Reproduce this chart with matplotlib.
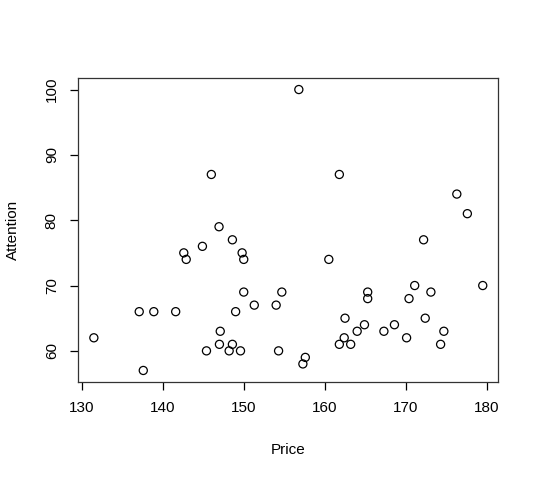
import matplotlib
matplotlib.use("Agg")
import matplotlib.pyplot as plt

price = [131.5, 137.6, 137.1, 138.9, 141.6, 142.6, 142.9, 144.9, 146.0, 146.95,
         145.4, 147.1, 147.0, 148.6, 149.8, 150.0, 148.6, 148.2, 149.6, 149.0,
         150.0, 151.3, 154.0, 154.7, 154.3, 156.8, 161.8, 176.3, 177.6, 172.2,
         160.5, 179.5, 171.1, 165.3, 165.3, 170.4, 173.1, 162.5, 172.4, 164.9,
         164.0, 162.4, 161.8, 163.2, 167.3, 168.6, 170.1, 174.7, 174.3, 157.6,
         157.3]
attention = [62, 57, 66, 66, 66, 75, 74, 76, 87, 79,
             60, 63, 61, 77, 75, 74, 61, 60, 60, 66,
             69, 67, 67, 69, 60, 100, 87, 84, 81, 77,
             74, 70, 70, 69, 68, 68, 69, 65, 65, 64,
             63, 62, 61, 61, 63, 64, 62, 63, 61, 59,
             58]
xticks = [130, 140, 150, 160, 170, 180]
yticks = [60, 70, 80, 90, 100]

plt.rcParams['font.family'] = ['Liberation Sans', 'DejaVu Sans']

fig = plt.figure(figsize=(5.38, 4.8), dpi=100)
ax = fig.add_axes([78.3/538, 1-381.7/480, (498.3-78.3)/538, (381.7-78.3)/480])
ax.scatter(price, attention, s=34, facecolors='none', edgecolors='black', linewidths=0.9)

def ext(lo, hi):
    r = hi - lo
    return lo - 0.04*r, hi + 0.04*r

ax.set_xlim(*ext(min(price), max(price)))
ax.set_ylim(*ext(min(attention), max(attention)))
ax.set_xticks(xticks)
ax.set_yticks(yticks)
ax.set_yticklabels([str(v) for v in yticks], rotation=90, va='center')
ax.tick_params(direction='out', length=6, width=0.9, labelsize=11, pad=8, colors='black')
for s in ax.spines.values():
    s.set_linewidth(0.9)
    s.set_color('#333333')
ax.set_xlabel('Price', fontsize=11, labelpad=20)
ax.set_ylabel('Attention', fontsize=11, labelpad=18)
fig.savefig('out.png', dpi=100)
